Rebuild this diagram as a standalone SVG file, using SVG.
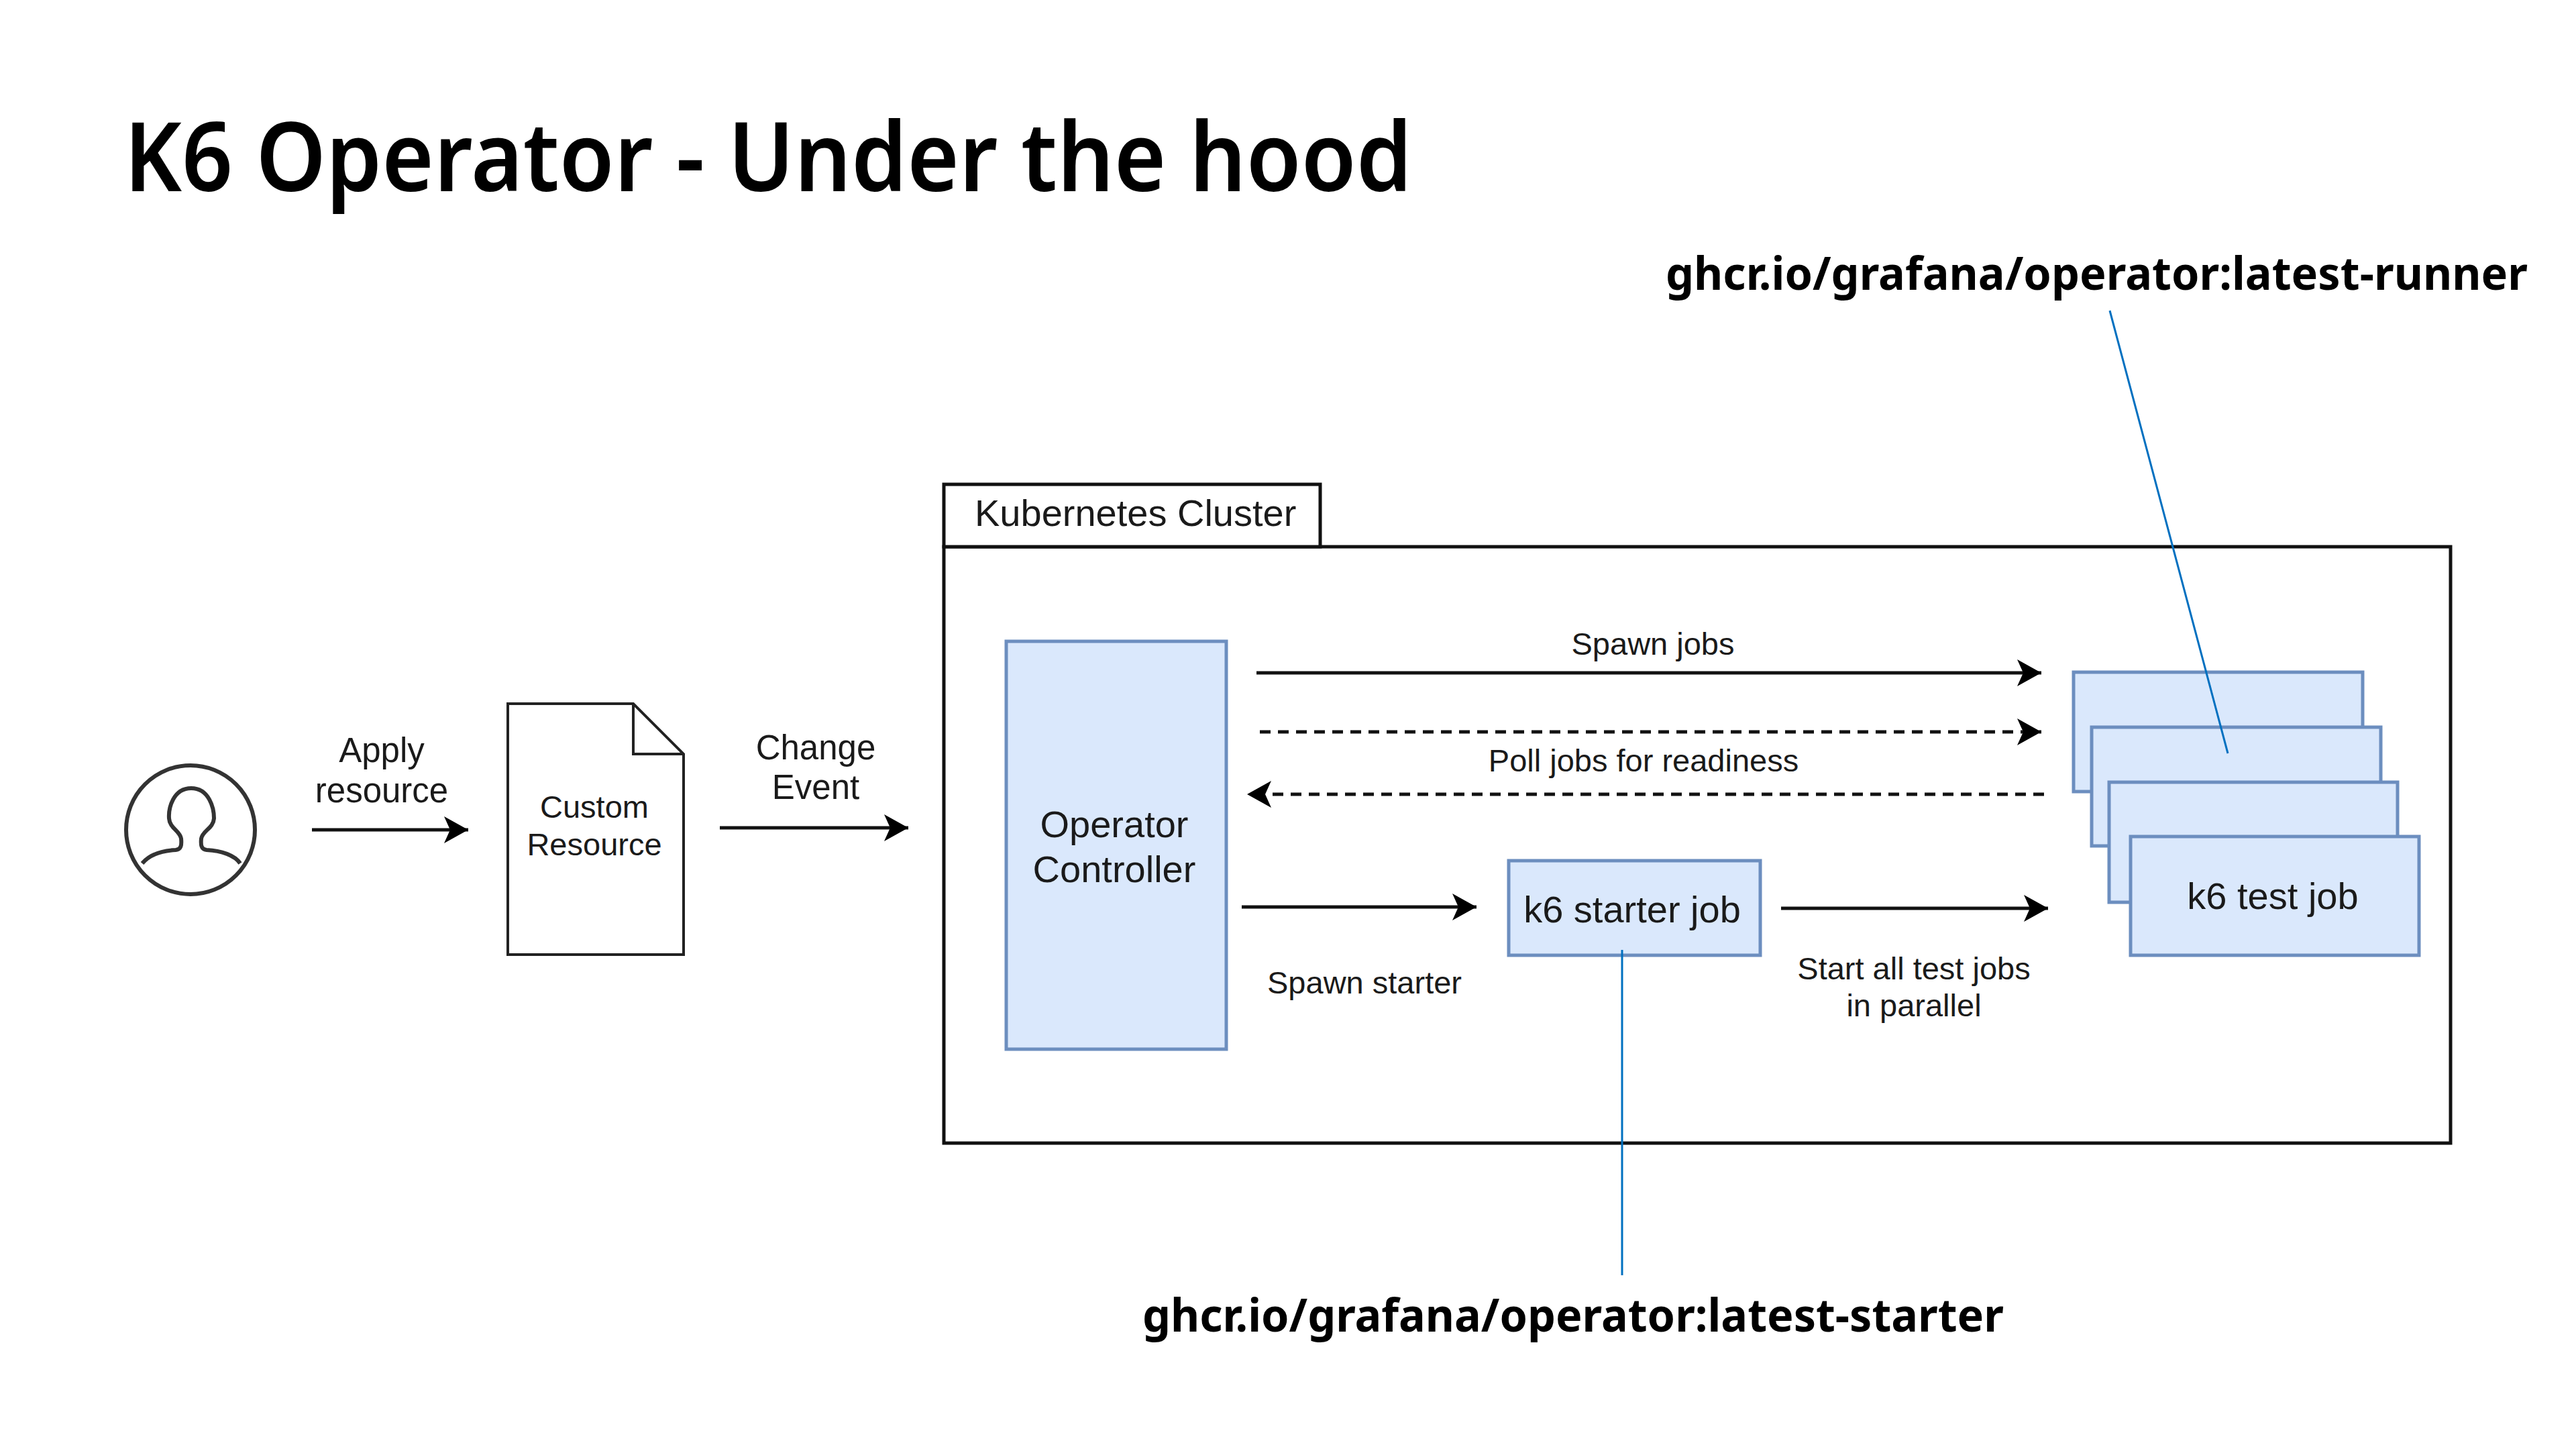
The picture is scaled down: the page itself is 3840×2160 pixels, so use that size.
<svg xmlns="http://www.w3.org/2000/svg" width="3840" height="2160" viewBox="0 0 3840 2160">
<style>
text{font-family:"Liberation Sans",Arial,sans-serif;fill:#1a1a1a;text-anchor:middle}
.h{font-family:"Noto Sans","Open Sans",sans-serif;fill:#000;text-anchor:start;font-weight:600}
.b{font-weight:700}
.c{font-size:56px}.l{font-size:47px}.m{font-size:51px}
.box{fill:#dae8fc;stroke:#6c8ebf;stroke-width:5}
.frame{fill:#fff;stroke:#111;stroke-width:5}
.conn{fill:none;stroke:#111;stroke-width:5;marker-end:url(#ah)}
.dash{stroke-dasharray:16 11}
.call{fill:none;stroke:#0070c0;stroke-width:3}
.ic{fill:none;stroke:#333;stroke-width:6}
</style>
<defs><marker id="ah" markerUnits="userSpaceOnUse" markerWidth="40" markerHeight="44" refX="36" refY="22" orient="auto"><path d="M0 2L36 22L0 42L9 22Z" fill="#000"/></marker></defs>
<rect width="3840" height="2160" fill="#fff"/>
<text id="title" class="h" x="185" y="285" font-size="142" textLength="1920" lengthAdjust="spacingAndGlyphs">K6 Operator - Under the hood</text>
<g id="cluster">
<rect class="frame" x="1407" y="815" width="2246" height="889"/>
<rect class="frame" x="1407" y="722" width="561" height="93"/>
<text class="c" x="1453" y="784" style="text-anchor:start">Kubernetes Cluster</text>
</g>
<g id="user"><circle class="ic" cx="284" cy="1237" r="96"/><path class="ic" d="M212 1287C222 1275 240 1268 262 1267C270 1266 271 1260 270 1250C268 1238 253 1235 252 1220C251 1205 258 1175 285 1175C312 1175 319 1205 319 1220C318 1235 302 1238 300 1250C299 1260 300 1266 308 1267C330 1268 350 1275 358 1287"/></g>
<g id="custom-resource">
<path d="M757 1049H944L1019 1124V1423H757Z" fill="#fff" stroke="#222" stroke-width="4"/>
<path d="M944 1049V1124H1019" fill="none" stroke="#222" stroke-width="4"/>
<text class="l" x="886" y="1219">Custom</text><text class="l" x="886" y="1275">Resource</text>
</g>
<g id="operator-controller"><rect class="box" x="1500" y="956" width="328" height="608"/>
<text class="c" x="1661" y="1248">Operator</text><text class="c" x="1661" y="1315">Controller</text></g>
<g id="starter-job"><rect class="box" x="2249" y="1283" width="375" height="141"/>
<text class="c" x="2433" y="1375">k6 starter job</text></g>
<g id="test-job-1"><rect class="box" x="3091" y="1002" width="431" height="178"/></g>
<g id="test-job-2"><rect class="box" x="3118" y="1084" width="431" height="177"/></g>
<g id="test-job-3"><rect class="box" x="3144" y="1166" width="430" height="179"/></g>
<g id="test-job-4"><rect class="box" x="3176" y="1247" width="430" height="177"/>
<text class="c" x="3388" y="1355">k6 test job</text></g>
<g id="connectors">
<line class="conn" x1="465" y1="1237" x2="698" y2="1237"/>
<line class="conn" x1="1073" y1="1234" x2="1354" y2="1234"/>
<line class="conn" x1="1873" y1="1003" x2="3043" y2="1003"/>
<line class="conn dash" x1="1878" y1="1091" x2="3043" y2="1091"/>
<line class="conn dash" x1="3047" y1="1184" x2="1859" y2="1184"/>
<line class="conn" x1="1851" y1="1352" x2="2201" y2="1352"/>
<line class="conn" x1="2655" y1="1354" x2="3053" y2="1354"/>
<line class="call" x1="3145" y1="463" x2="3321" y2="1123"/>
<line class="call" x1="2418" y1="1416" x2="2418" y2="1901"/>
</g>
<g id="labels">
<text class="m" x="569" y="1136">Apply</text><text class="m" x="569" y="1196">resource</text>
<text class="m" x="1216" y="1132">Change</text><text class="m" x="1216" y="1191">Event</text>
<text class="l" x="2464" y="976">Spawn jobs</text>
<text class="l" x="2450" y="1150">Poll jobs for readiness</text>
<text class="l" x="2034" y="1481">Spawn starter</text>
<text class="l" x="2853" y="1460">Start all test jobs</text><text class="l" x="2853" y="1515">in parallel</text>
<text class="h b" x="2483" y="432" font-size="68" textLength="1285" lengthAdjust="spacingAndGlyphs">ghcr.io/grafana/operator:latest-runner</text>
<text class="h b" x="1703" y="1985" font-size="68" textLength="1284" lengthAdjust="spacingAndGlyphs">ghcr.io/grafana/operator:latest-starter</text>
</g>
</svg>
